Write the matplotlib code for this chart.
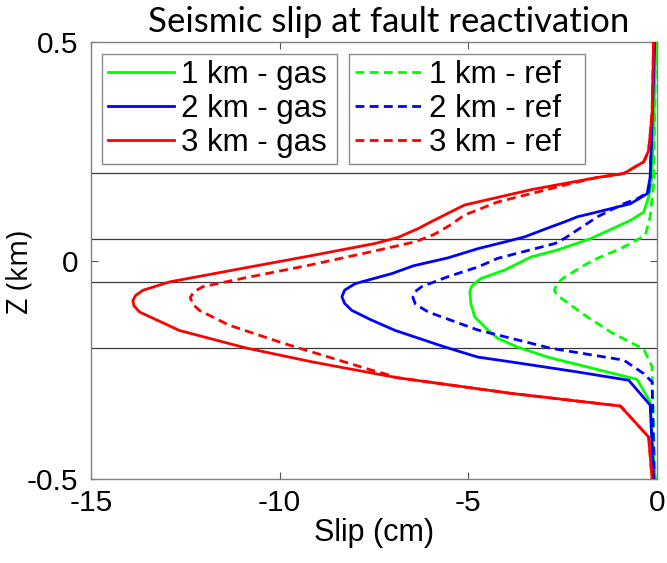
import matplotlib
matplotlib.use("Agg")
import matplotlib.pyplot as plt

# ---- data (slip in cm, depth Z in km) ----
z_3gas = [0.5, 0.336, 0.252, 0.226, 0.199, 0.19, 0.162, 0.127, 0.108, 0.088, 0.073, 0.053,
          0.039, 0.010, -0.018, -0.049, -0.068, -0.080, -0.092, -0.104, -0.118, -0.16, -0.200,
          -0.216, -0.232, -0.268, -0.304, -0.333, -0.404, -0.5]
s_3gas = [-0.09, -0.13, -0.22, -0.35, -0.88, -1.58, -3.34, -5.1, -5.54, -6.0, -6.33, -6.86,
          -7.47, -9.23, -10.99, -12.92, -13.62, -13.82, -13.89, -13.86, -13.71, -12.66, -10.9,
          -10.02, -9.14, -6.9, -3.87, -0.97, -0.22, -0.13]

z_3ref = [0.5, 0.336, 0.252, 0.226, 0.199, 0.19, 0.176, 0.153, 0.134, 0.104, 0.080, 0.060,
          0.043, 0.022, -0.011, -0.041, -0.060, -0.072, -0.085, -0.100, -0.114, -0.148, -0.186,
          -0.198, -0.251, -0.262, -0.268, -0.304, -0.333, -0.404, -0.5]
s_3ref = [-0.09, -0.13, -0.22, -0.35, -0.88, -1.58, -2.29, -3.34, -4.22, -5.10, -5.5, -5.9,
          -6.4, -7.47, -9.23, -10.99, -12.04, -12.28, -12.37, -12.3, -12.13, -11.34, -10.02,
          -9.58, -7.56, -7.1, -6.9, -3.87, -0.97, -0.22, -0.13]

z_2gas = [0.5, 0.191, 0.153, 0.130, 0.111, 0.100, 0.088, 0.077, 0.054, 0.046, 0.027, 0.006,
          -0.012, -0.030, -0.053, -0.068, -0.083, -0.098, -0.114, -0.135, -0.160, -0.198,
          -0.221, -0.232, -0.255, -0.274, -0.331, -0.5]
s_2gas = [-0.06, -0.18, -0.26, -0.70, -1.58, -2.11, -2.46, -2.81, -3.51, -3.87, -4.75, -5.54,
          -6.45, -7.03, -8.0, -8.28, -8.35, -8.28, -8.09, -7.6, -6.94, -5.62,
          -4.75, -3.87, -2.11, -0.75, -0.18, -0.09]

z_2ref = [0.5, 0.191, 0.157, 0.141, 0.130, 0.100, 0.050, 0.039, 0.005, -0.015, -0.037, -0.060,
          -0.072, -0.085, -0.100, -0.118, -0.159, -0.201, -0.228, -0.259, -0.278, -0.5]
s_2ref = [-0.06, -0.18, -0.22, -0.53, -0.88, -1.58, -2.46, -2.7, -4.22, -4.75, -5.54, -6.24,
          -6.42, -6.47, -6.4, -6.06, -4.75, -2.8, -0.88, -0.35, -0.13, -0.08]

z_1gas = [0.5, 0.191, 0.146, 0.111, 0.092, 0.050, 0.024, 0.008, -0.022, -0.041, -0.049, -0.060,
          -0.072, -0.100, -0.129, -0.159, -0.178, -0.198, -0.221, -0.272, -0.324, -0.5]
s_1gas = [-0.03, -0.13, -0.22, -0.35, -0.70, -1.76, -2.64, -3.34, -4.04, -4.66, -4.79, -4.92,
          -4.96, -4.93, -4.83, -4.48, -4.22, -3.7, -2.9, -0.53, -0.18, -0.05]

z_1ref = [0.5, 0.176, 0.100, 0.058, 0.039, 0.024, 0.005, -0.007, -0.041, -0.055, -0.068, -0.080,
          -0.091, -0.129, -0.165, -0.203, -0.243, -0.5]
s_1ref = [-0.03, -0.09, -0.18, -0.31, -0.70, -1.05, -1.58, -1.85, -2.5, -2.66, -2.72, -2.64,
          -2.46, -1.85, -1.2, -0.35, -0.13, -0.05]

layer_bounds = [0.2, 0.05, -0.05, -0.2]
x_ticks = [-15, -10, -5, 0]
y_ticks = [-0.5, 0, 0.5]
y_ticklabels = ["-0.5", "0", "0.5"]
labels_gas = ["1 km - gas", "2 km - gas", "3 km - gas"]
labels_ref = ["1 km - ref", "2 km - ref", "3 km - ref"]

W, H = 667, 563
fig = plt.figure(figsize=(W / 100, H / 100), dpi=100)
L, R, T, B = 91, 657, 42, 479
ax = fig.add_axes([L / W, 1 - B / H, (R - L) / W, (B - T) / H])

arial = "Liberation Sans"
lw = 2.0
dash = (3.2, 1.9)

for zb in layer_bounds:
    ax.axhline(zb, color="#3a3a3a", lw=0.9, zorder=1)

g1, = ax.plot(s_1gas, z_1gas, color=(0, 1, 0), lw=lw, zorder=3)
b1, = ax.plot(s_2gas, z_2gas, color=(0, 0, 1), lw=lw, zorder=3)
r1, = ax.plot(s_3gas, z_3gas, color=(1, 0, 0), lw=lw, zorder=3)
g2, = ax.plot(s_1ref, z_1ref, color=(0, 1, 0), lw=lw, dashes=dash, zorder=3)
b2, = ax.plot(s_2ref, z_2ref, color=(0, 0, 1), lw=lw, dashes=dash, zorder=3)
r2, = ax.plot(s_3ref, z_3ref, color=(1, 0, 0), lw=lw, dashes=dash, zorder=3)

ax.set_xlim(-15, 0)
ax.set_ylim(-0.5, 0.5)
ax.set_xticks(x_ticks)
ax.set_yticks(y_ticks)
ax.set_xticklabels([str(v) for v in x_ticks], fontfamily=arial, fontsize=21.5)
ax.set_yticklabels(y_ticklabels, fontfamily=arial, fontsize=21.5)
ax.tick_params(direction="in", length=5, width=0.8, color="#555555", top=True, right=True)
ax.tick_params(axis="x", pad=7)
ax.tick_params(axis="y", pad=9)
for sp in ax.spines.values():
    sp.set_color("#808080")
    sp.set_linewidth(1.0)

ax.set_xlabel("Slip (cm)", fontfamily=arial, fontsize=22, labelpad=1)
fig.text(20 / W, 1 - 272 / H, "Z (km)", fontfamily="Open Sans", fontsize=21,
         rotation=90, ha="center", va="center")
fig.text(389 / W, 1 - 22 / H, "Seismic slip at fault reactivation", fontfamily="Lato",
         fontsize=25, ha="center", va="center")

leg_kw = dict(frameon=True, fancybox=False, framealpha=1, edgecolor="#8a8a8a",
              prop={"family": arial, "size": 22.5}, handlelength=2.1, handletextpad=0.25,
              borderpad=0.2, labelspacing=0.12, borderaxespad=0, mode="expand",
              loc="upper left", bbox_transform=fig.transFigure)
leg1 = ax.legend([g1, b1, r1], labels_gas,
                 bbox_to_anchor=(101.7 / W, 1 - 168 / H, 235 / W, 114 / H), **leg_kw)
leg1.get_frame().set_linewidth(1.0)
ax.add_artist(leg1)
leg2 = ax.legend([g2, b2, r2], labels_ref,
                 bbox_to_anchor=(349 / W, 1 - 168 / H, 236 / W, 114 / H), **leg_kw)
leg2.get_frame().set_linewidth(1.0)

fig.savefig("out.png", dpi=100)
